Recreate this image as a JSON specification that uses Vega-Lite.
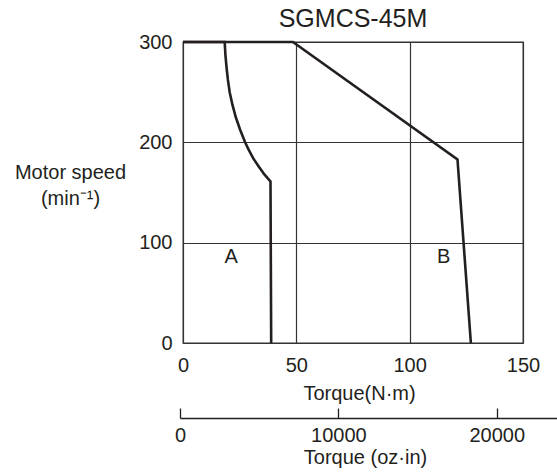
{
  "$schema": "https://vega.github.io/schema/vega-lite/v6.json",
  "width": 340,
  "height": 301,
  "autosize": {"type": "none"},
  "padding": {"left": 183, "top": 42, "right": 34, "bottom": 130},
  "config": {
    "font": "Liberation Sans",
    "view": {"stroke": "#333333", "strokeWidth": 1.3},
    "axis": {
      "labelFont": "Liberation Sans",
      "titleFont": "Liberation Sans",
      "labelFontSize": 20,
      "titleFontSize": 20,
      "titleFontWeight": "normal",
      "labelColor": "#231f20",
      "titleColor": "#231f20",
      "gridColor": "#333333",
      "gridWidth": 1.2,
      "gridOpacity": 1
    }
  },
  "title": {
    "text": "SGMCS-45M",
    "fontSize": 25,
    "fontWeight": "normal",
    "font": "Liberation Sans",
    "color": "#231f20",
    "offset": 0
  },
  "layer": [
    {
      "layer": [
        {
          "data": {
            "values": [
              {"series": "A", "i": 0, "torque": 0, "speed": 300},
              {"series": "A", "i": 1, "torque": 18.4, "speed": 300},
              {"series": "A", "i": 2, "torque": 18.7, "speed": 287.5},
              {"series": "A", "i": 3, "torque": 19.2, "speed": 275},
              {"series": "A", "i": 4, "torque": 19.8, "speed": 262.5},
              {"series": "A", "i": 5, "torque": 20.6, "speed": 250},
              {"series": "A", "i": 6, "torque": 21.8, "speed": 237.5},
              {"series": "A", "i": 7, "torque": 23.3, "speed": 225},
              {"series": "A", "i": 8, "torque": 25.2, "speed": 212.5},
              {"series": "A", "i": 9, "torque": 27.4, "speed": 200},
              {"series": "A", "i": 10, "torque": 28.9, "speed": 193},
              {"series": "A", "i": 11, "torque": 31.0, "speed": 184},
              {"series": "A", "i": 12, "torque": 33.4, "speed": 176},
              {"series": "A", "i": 13, "torque": 35.9, "speed": 168},
              {"series": "A", "i": 14, "torque": 38.6, "speed": 161},
              {"series": "A", "i": 15, "torque": 38.9, "speed": 0},
              {"series": "B", "i": 0, "torque": 0, "speed": 300},
              {"series": "B", "i": 1, "torque": 48.5, "speed": 300},
              {"series": "B", "i": 2, "torque": 121.1, "speed": 183},
              {"series": "B", "i": 3, "torque": 127, "speed": 0}
            ]
          },
          "mark": {"type": "line", "color": "#231f20", "strokeWidth": 2.6, "strokeJoin": "miter"},
          "encoding": {
            "x": {
              "field": "torque",
              "type": "quantitative",
              "scale": {"domain": [0, 150], "nice": false, "zero": false},
              "axis": {
                "values": [0, 50, 100, 150],
                "grid": true,
                "ticks": false,
                "domain": false,
                "labelPadding": 12,
                "labelFlush": false,
                "title": "Torque(N·m)",
                "titlePadding": 8,
                "titleX": 176
              }
            },
            "y": {
              "field": "speed",
              "type": "quantitative",
              "scale": {"domain": [0, 300], "nice": false, "zero": false},
              "axis": {
                "values": [0, 100, 200, 300],
                "grid": true,
                "ticks": false,
                "domain": false,
                "labelPadding": 11,
                "labelFlush": false,
                "title": ["Motor speed", "(min⁻¹)"],
                "titleAngle": 0,
                "titleAlign": "center",
                "titleBaseline": "middle",
                "titleLineHeight": 26,
                "titleX": -113,
                "titleY": 130
              }
            },
            "detail": {"field": "series"},
            "order": {"field": "i"}
          }
        },
        {
          "data": {
            "values": [
              {"label": "A", "torque": 21.3, "speed": 86},
              {"label": "B", "torque": 115, "speed": 86}
            ]
          },
          "mark": {"type": "text", "fontSize": 20, "font": "Liberation Sans", "color": "#231f20", "baseline": "middle", "align": "center"},
          "encoding": {
            "x": {"field": "torque", "type": "quantitative", "scale": {"domain": [0, 150], "nice": false, "zero": false}},
            "y": {"field": "speed", "type": "quantitative", "scale": {"domain": [0, 300], "nice": false, "zero": false}},
            "text": {"field": "label"}
          }
        }
      ]
    },
    {
      "data": {"values": [{"ozin": 0}, {"ozin": 10000}, {"ozin": 20000}]},
      "mark": {"type": "point", "opacity": 0},
      "encoding": {
        "x": {
          "field": "ozin",
          "type": "quantitative",
          "scale": {"domain": [0, 23800], "range": [-3, 374], "nice": false, "zero": false},
          "axis": {
            "orient": "bottom",
            "offset": 75,
            "values": [0, 10000, 20000],
            "format": "d",
            "grid": false,
            "ticks": true,
            "tickSize": -10,
            "tickColor": "#231f20",
            "tickWidth": 1.3,
            "domain": true,
            "domainColor": "#231f20",
            "domainWidth": 1.3,
            "labelPadding": 17,
            "labelFlush": false,
            "title": "Torque (oz·in)",
            "titlePadding": 2,
            "titleX": 182
          }
        }
      }
    }
  ],
  "resolve": {"scale": {"x": "independent"}, "axis": {"x": "independent"}}
}
